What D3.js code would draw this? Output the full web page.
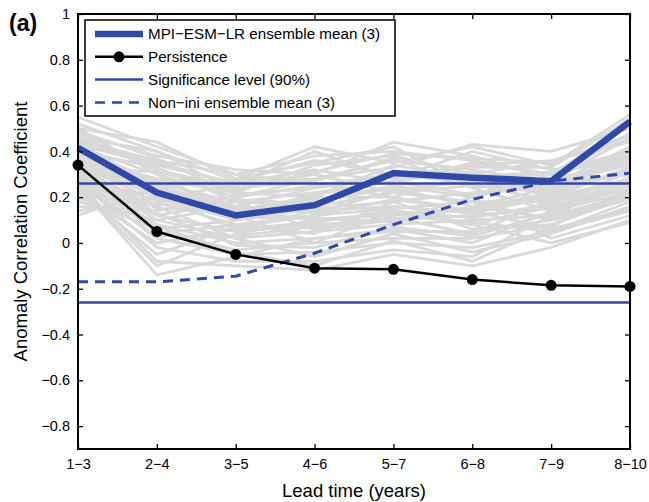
<!DOCTYPE html>
<html>
<head>
<meta charset="utf-8">
<script src="https://cdnjs.cloudflare.com/ajax/libs/d3/7.8.5/d3.min.js"></script>
<style>
  body { margin: 0; background: #fff; }
  text { font-family: "Liberation Sans", Arial, Helvetica, sans-serif; }
</style>
</head>
<body>
<script>
// ---- data ----
var leadTimes = ["1\u22123", "2\u22124", "3\u22125", "4\u22126", "5\u22127", "6\u22128", "7\u22129", "8\u221210"];
var yTicks = [-0.8, -0.6, -0.4, -0.2, 0, 0.2, 0.4, 0.6, 0.8, 1];

var ensembleMean = [0.415, 0.22, 0.12, 0.165, 0.305, 0.285, 0.27, 0.53];
var persistence = [0.34, 0.05, -0.05, -0.11, -0.115, -0.16, -0.185, -0.19];
var nonIniMean = [-0.17, -0.17, -0.145, -0.045, 0.08, 0.19, 0.27, 0.305];
var sigLevel = 0.26;

// individual ensemble members (grey spaghetti)
var members = [
  [0.55, 0.42, 0.30, 0.38, 0.40, 0.36, 0.30, 0.52],
  [0.50, 0.44, 0.28, 0.42, 0.35, 0.42, 0.34, 0.56],
  [0.48, 0.38, 0.32, 0.30, 0.44, 0.38, 0.28, 0.48],
  [0.46, 0.40, 0.22, 0.34, 0.38, 0.30, 0.36, 0.45],
  [0.44, 0.35, 0.26, 0.28, 0.33, 0.43, 0.40, 0.50],
  [0.42, 0.30, 0.20, 0.25, 0.30, 0.28, 0.25, 0.42],
  [0.40, 0.33, 0.18, 0.22, 0.27, 0.35, 0.30, 0.40],
  [0.38, 0.28, 0.24, 0.30, 0.22, 0.25, 0.22, 0.38],
  [0.37, 0.25, 0.15, 0.18, 0.25, 0.20, 0.28, 0.35],
  [0.36, 0.22, 0.12, 0.20, 0.20, 0.30, 0.20, 0.33],
  [0.35, 0.20, 0.10, 0.15, 0.18, 0.22, 0.26, 0.30],
  [0.34, 0.18, 0.08, 0.12, 0.15, 0.18, 0.18, 0.28],
  [0.33, 0.15, 0.14, 0.10, 0.12, 0.15, 0.22, 0.32],
  [0.32, 0.12, 0.05, 0.08, 0.10, 0.12, 0.15, 0.25],
  [0.31, 0.10, 0.02, 0.05, 0.08, 0.10, 0.12, 0.27],
  [0.30, 0.08, 0.00, 0.02, 0.05, 0.05, 0.10, 0.22],
  [0.29, 0.05, -0.03, 0.00, 0.02, 0.02, 0.08, 0.20],
  [0.28, 0.02, -0.05, -0.04, 0.00, -0.02, 0.05, 0.18],
  [0.27, -0.02, -0.08, -0.08, -0.03, -0.06, 0.12, 0.21],
  [0.26, -0.08, -0.10, -0.12, -0.05, -0.10, -0.02, 0.10],
  [0.25, -0.14, -0.06, 0.02, 0.06, 0.00, 0.14, 0.24],
  [0.24, -0.10, 0.04, 0.10, 0.13, 0.08, 0.16, 0.26],
  [0.22, 0.00, 0.06, 0.14, 0.16, 0.13, 0.20, 0.28],
  [0.20, 0.06, 0.10, 0.18, 0.24, 0.16, 0.24, 0.30],
  [0.18, 0.10, 0.16, 0.24, 0.30, 0.26, 0.18, 0.25],
  [0.16, 0.14, 0.20, 0.28, 0.36, 0.32, 0.26, 0.34],
  [0.14, 0.20, 0.25, 0.40, 0.28, 0.40, 0.32, 0.36],
  [0.12, 0.24, 0.28, 0.35, 0.42, 0.24, 0.14, 0.22],
  [0.45, 0.36, 0.30, 0.26, 0.20, 0.14, 0.06, 0.15],
  [0.40, 0.26, 0.18, 0.06, 0.10, 0.20, 0.02, 0.12],
  [0.50, 0.30, 0.12, 0.00, 0.14, 0.08, 0.00, 0.09],
  [0.38, 0.16, 0.02, -0.06, 0.04, -0.04, 0.04, 0.16],
  [0.43, 0.34, 0.26, 0.32, 0.26, 0.34, 0.36, 0.44],
  [0.30, 0.28, 0.22, 0.20, 0.34, 0.28, 0.30, 0.38],
  [0.28, 0.12, 0.18, 0.16, 0.22, 0.18, 0.10, 0.19],
  [0.36, 0.04, 0.08, 0.04, 0.18, 0.06, 0.08, 0.23],
  [0.52, 0.40, 0.27, 0.36, 0.30, 0.33, 0.33, 0.54],
  [0.47, 0.32, 0.24, 0.27, 0.37, 0.24, 0.27, 0.46],
  [0.41, 0.27, 0.16, 0.13, 0.23, 0.27, 0.23, 0.41],
  [0.39, 0.21, 0.06, 0.09, 0.14, 0.11, 0.17, 0.31],
  [0.34, 0.13, -0.01, -0.02, 0.07, 0.03, 0.13, 0.29],
  [0.31, 0.07, -0.04, -0.10, 0.01, -0.08, 0.07, 0.24],
  [0.26, 0.03, 0.03, 0.07, 0.11, 0.04, 0.19, 0.27],
  [0.23, -0.05, 0.07, 0.12, 0.19, 0.14, 0.21, 0.33],
  [0.21, 0.17, 0.13, 0.21, 0.27, 0.21, 0.25, 0.37],
  [0.19, 0.23, 0.19, 0.17, 0.31, 0.29, 0.31, 0.40],
  [0.33, 0.31, 0.23, 0.31, 0.39, 0.37, 0.35, 0.47],
  [0.29, 0.19, 0.11, 0.11, 0.09, 0.16, 0.11, 0.20],
  [0.44, 0.24, 0.14, 0.19, 0.13, 0.09, 0.05, 0.14],
  [0.49, 0.37, 0.21, 0.24, 0.29, 0.31, 0.24, 0.39]
];

var legendItems = [
  ["MPI\u2212ESM\u2212LR ensemble mean (3)", "mean"],
  ["Persistence", "pers"],
  ["Significance level (90%)", "sig"],
  ["Non\u2212ini ensemble mean (3)", "nonini"]
];

// ---- layout ----
var width = 649, height = 502;
var margin = { left: 78, right: 19, top: 14, bottom: 53 };
var blue = "#2f4aa6";

var svg = d3.select("body").append("svg").attr("width", width).attr("height", height);

var x = d3.scalePoint().domain(leadTimes).range([margin.left, width - margin.right]);
var y = d3.scaleLinear().domain([-0.9, 1]).range([height - margin.bottom, margin.top]);

var fmt = function (d) { return d === 0 ? "0" : (d === 1 ? "1" : d3.format(".1f")(d).replace("-", "\u2212")); };

var line = d3.line()
  .x(function (d, i) { return x(leadTimes[i]); })
  .y(function (d) { return y(d); });

// grey members
svg.append("g").selectAll("path").data(members).enter().append("path")
  .attr("d", line)
  .attr("fill", "none")
  .attr("stroke", "#d9d9d9")
  .attr("stroke-width", 2.8)
  .attr("stroke-linejoin", "miter");

// significance lines
svg.selectAll("line.sig").data([sigLevel, -sigLevel]).enter().append("line")
  .attr("class", "sig")
  .attr("x1", x.range()[0]).attr("x2", x.range()[1])
  .attr("y1", function (d) { return y(d); })
  .attr("y2", function (d) { return y(d); })
  .attr("stroke", blue).attr("stroke-width", 2.5);

// non-initialised mean (dashed)
svg.append("path").datum(nonIniMean)
  .attr("d", line).attr("fill", "none")
  .attr("stroke", blue).attr("stroke-width", 3)
  .attr("stroke-dasharray", "10,7");

// persistence
svg.append("path").datum(persistence)
  .attr("d", line).attr("fill", "none")
  .attr("stroke", "#000").attr("stroke-width", 2.5);
svg.selectAll("circle.pers").data(persistence).enter().append("circle")
  .attr("class", "pers")
  .attr("cx", function (d, i) { return x(leadTimes[i]); })
  .attr("cy", function (d) { return y(d); })
  .attr("r", 5.5).attr("fill", "#000");

// ensemble mean (thick)
svg.append("path").datum(ensembleMean)
  .attr("d", line).attr("fill", "none")
  .attr("stroke", blue).attr("stroke-width", 6.5)
  .attr("stroke-linejoin", "miter");

// ---- axes (matlab style, ticks inside on all sides) ----
var x0 = margin.left, x1 = width - margin.right, y0 = height - margin.bottom, y1 = margin.top;
var tickLen = 5;

var axisLeft = d3.axisLeft(y).tickValues(yTicks).tickSizeInner(-tickLen).tickSizeOuter(0).tickPadding(8).tickFormat(fmt);
var axisRight = d3.axisRight(y).tickValues(yTicks).tickSizeInner(-tickLen).tickSizeOuter(0).tickFormat("");
var axisBottom = d3.axisBottom(x).tickSizeInner(-tickLen).tickSizeOuter(0).tickPadding(10);
var axisTop = d3.axisTop(x).tickSizeInner(-tickLen).tickSizeOuter(0).tickFormat("");

function styleAxis(g) {
  g.select(".domain").remove();
  g.selectAll(".tick line").attr("stroke", "#000").attr("stroke-width", 1.3);
  g.selectAll(".tick text").attr("font-size", 14.5).attr("fill", "#000")
    .style("font-family", "'Liberation Sans', Arial, Helvetica, sans-serif");
}

svg.append("g").attr("transform", "translate(" + x0 + ",0)").call(axisLeft).call(styleAxis);
svg.append("g").attr("transform", "translate(" + x1 + ",0)").call(axisRight).call(styleAxis);
svg.append("g").attr("transform", "translate(0," + y0 + ")").call(axisBottom).call(styleAxis);
svg.append("g").attr("transform", "translate(0," + y1 + ")").call(axisTop).call(styleAxis);

svg.append("rect")
  .attr("x", x0).attr("y", y1).attr("width", x1 - x0).attr("height", y0 - y1)
  .attr("fill", "none").attr("stroke", "#000").attr("stroke-width", 2);

// ---- legend ----
var lg = svg.append("g").attr("transform", "translate(85,20)");
lg.append("rect").attr("width", 310).attr("height", 96)
  .attr("fill", "#fff").attr("stroke", "#000").attr("stroke-width", 1.5);

var rows = lg.selectAll("g.row").data(legendItems).enter().append("g")
  .attr("class", "row")
  .attr("transform", function (d, i) { return "translate(0," + (14 + i * 22.8) + ")"; });

rows.append("line")
  .attr("x1", 10).attr("x2", 58).attr("y1", 0).attr("y2", 0)
  .attr("stroke", function (d) { return d[1] === "pers" ? "#000" : blue; })
  .attr("stroke-width", function (d) { return d[1] === "mean" ? 6.5 : 2.5; })
  .attr("stroke-dasharray", function (d) { return d[1] === "nonini" ? "10,7" : null; });

rows.filter(function (d) { return d[1] === "pers"; }).append("circle")
  .attr("cx", 34).attr("cy", 0).attr("r", 5.5).attr("fill", "#000");

rows.append("text")
  .attr("x", 63).attr("y", 0)
  .attr("dy", "0.36em")
  .attr("font-size", 15.2)
  .text(function (d) { return d[0]; });

// ---- titles ----
svg.append("text")
  .attr("x", (x0 + x1) / 2).attr("y", 497)
  .attr("text-anchor", "middle").attr("font-size", 18.5)
  .text("Lead time (years)");

svg.append("text")
  .attr("transform", "translate(27," + ((y0 + y1) / 2) + ") rotate(-90)")
  .attr("text-anchor", "middle").attr("font-size", 18.5)
  .text("Anomaly Correlation Coefficient");

svg.append("text")
  .attr("x", 9).attr("y", 31)
  .attr("font-size", 23).attr("font-weight", "bold")
  .text("(a)");
</script>
</body>
</html>
